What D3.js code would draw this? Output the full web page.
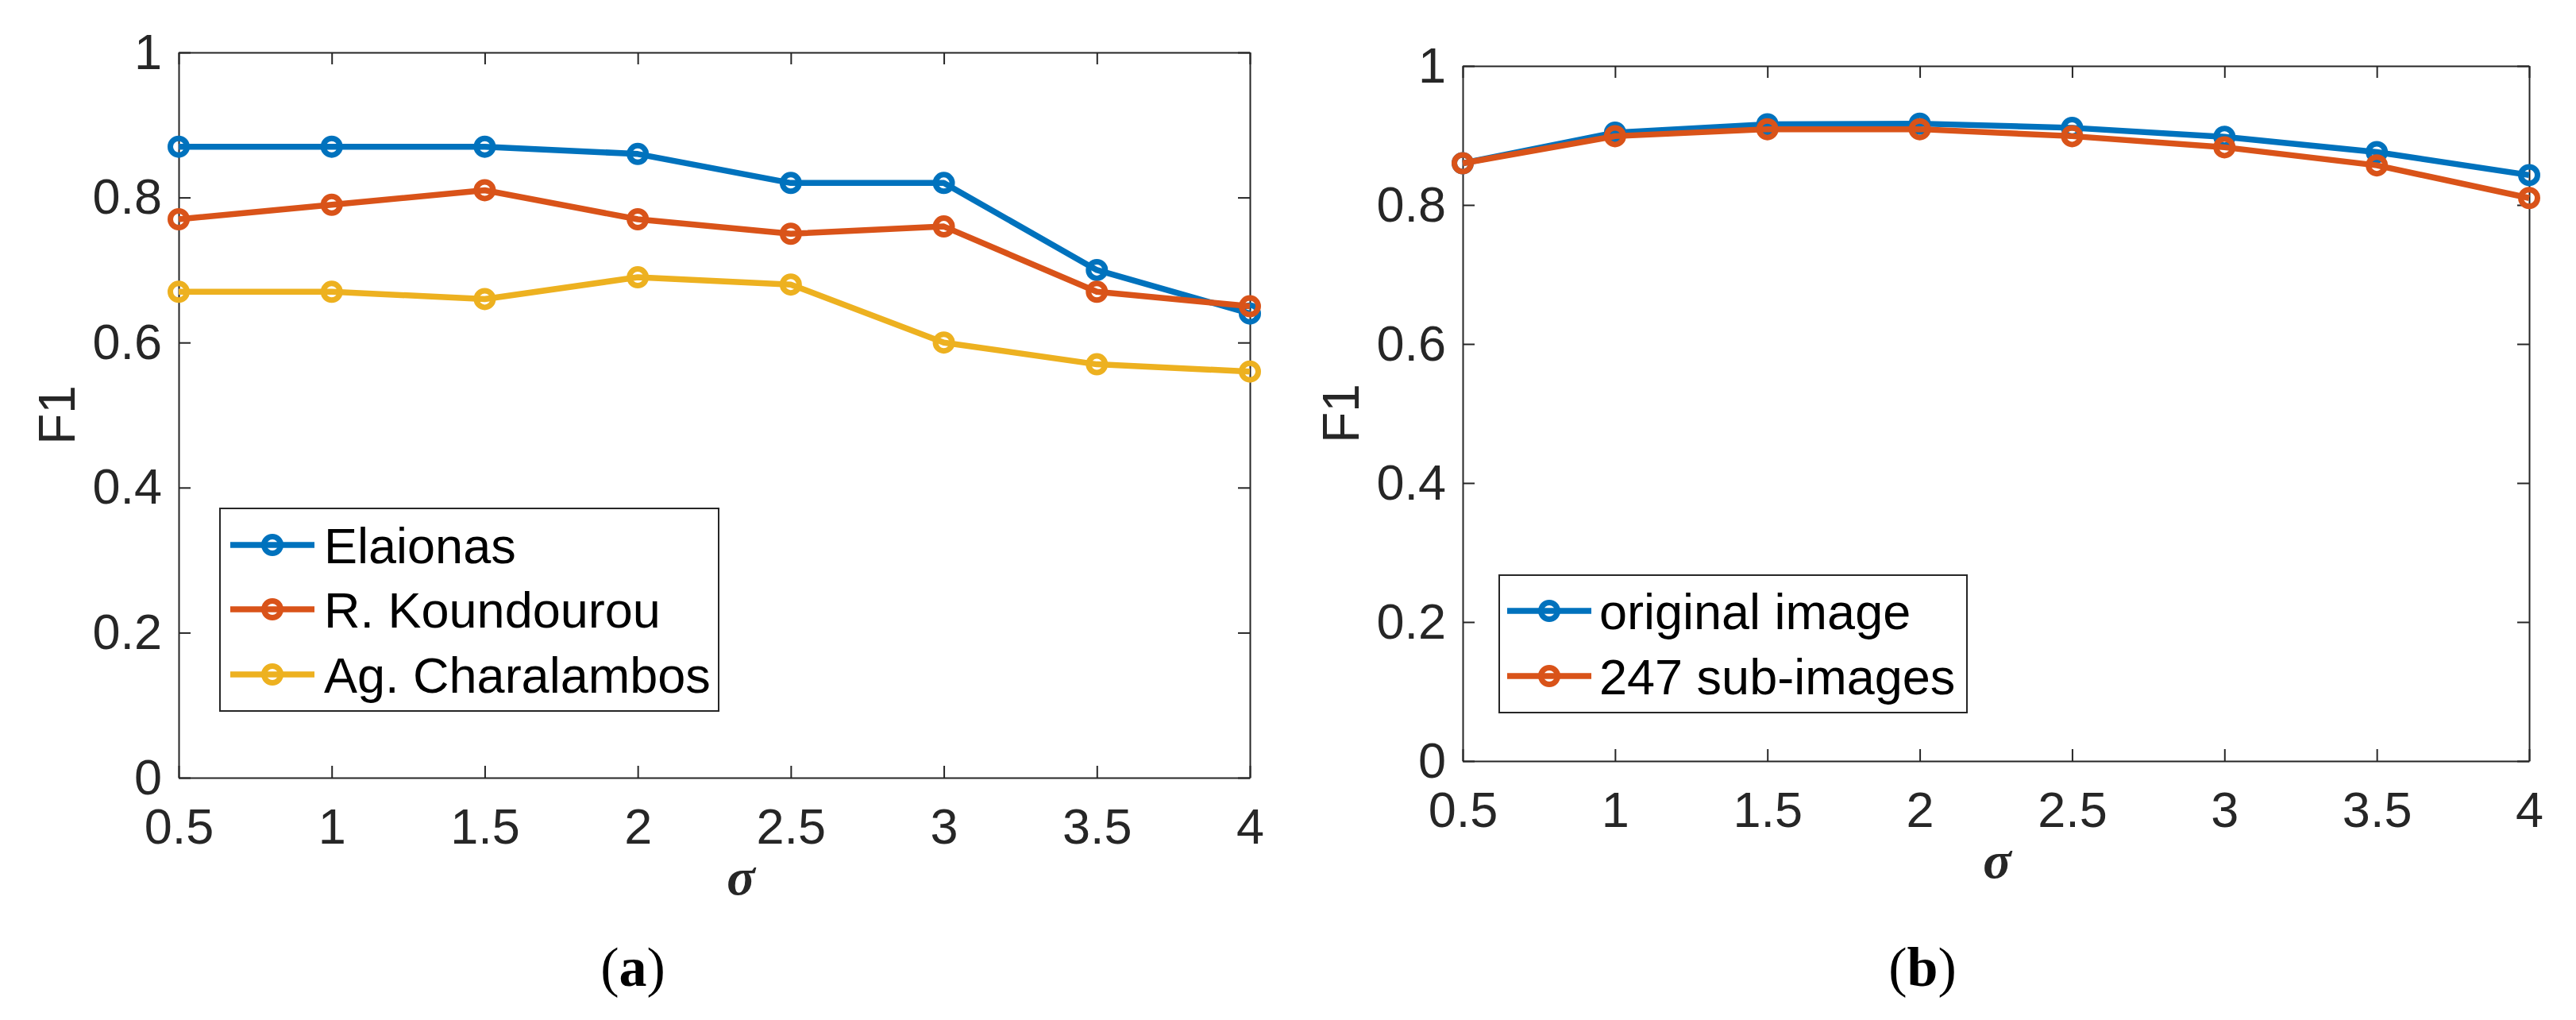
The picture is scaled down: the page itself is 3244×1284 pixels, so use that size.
<!DOCTYPE html>
<meta charset="utf-8">
<style>
  body { margin: 0; background: #fff; }
  svg { display: block; }
  .tick text { font-family: "Liberation Sans", Arial, sans-serif; }
</style>

<!-- Load d3.js -->
<script src="https://d3js.org/d3.v7.min.js"></script>

<div id="figure"></div>

<script>

// ---- data ----
var sigma = [0.5, 1, 1.5, 2, 2.5, 3, 3.5, 4];
var yTicks = [0, 0.2, 0.4, 0.6, 0.8, 1];
var yTickLabels = ["0", "0.2", "0.4", "0.6", "0.8", "1"];
var xTickLabels = ["0.5", "1", "1.5", "2", "2.5", "3", "3.5", "4"];

// panel (a)
var elaionas    = [0.87, 0.87, 0.87, 0.86, 0.82, 0.82, 0.70, 0.64];
var koundourou  = [0.77, 0.79, 0.81, 0.77, 0.75, 0.76, 0.67, 0.65];
var charalambos = [0.67, 0.67, 0.66, 0.69, 0.68, 0.60, 0.57, 0.56];
var namesA = ["Elaionas", "R. Koundourou", "Ag. Charalambos"];

// panel (b)
var originalImage = [0.86, 0.904, 0.916, 0.917, 0.911, 0.898, 0.876, 0.843];
var subImages     = [0.86, 0.899, 0.909, 0.909, 0.899, 0.883, 0.857, 0.810];
var namesB = ["original image", "247 sub-images"];

// matlab default line colours
var colors = ["#0072BD", "#D95319", "#EDB120"];

var W = 3244, H = 1284;
var axisColor = "#262626";
var fontSans = '"Liberation Sans", Arial, Helvetica, sans-serif';
var fontSerif = '"Liberation Serif", "Times New Roman", serif';

var svg = d3.select("#figure")
  .append("svg")
    .attr("width", W)
    .attr("height", H);

svg.append("rect").attr("width", W).attr("height", H).attr("fill", "#fff");

// draws one subplot
function drawPanel(p) {

  var x = d3.scaleLinear().domain([0.5, 4]).range([p.left, p.right]);
  var y = d3.scaleLinear().domain([0, 1]).range([p.bottom, p.top]);

  var g = svg.append("g");

  // white plot area
  g.append("rect")
    .attr("x", p.left).attr("y", p.top)
    .attr("width", p.right - p.left).attr("height", p.bottom - p.top)
    .attr("fill", "#fff");

  // axes: ticks point inwards, box on all four sides
  var bottom = g.append("g")
    .attr("transform", "translate(0," + p.bottom + ")")
    .call(d3.axisBottom(x).tickValues(sigma)
      .tickFormat(function(d, i) { return xTickLabels[i]; })
      .tickSizeInner(-15).tickSizeOuter(0).tickPadding(38));
  var top = g.append("g")
    .attr("transform", "translate(0," + p.top + ")")
    .call(d3.axisTop(x).tickValues(sigma).tickFormat("")
      .tickSizeInner(-15).tickSizeOuter(0));
  var left = g.append("g")
    .attr("transform", "translate(" + p.left + ",0)")
    .call(d3.axisLeft(y).tickValues(yTicks)
      .tickFormat(function(d, i) { return yTickLabels[i]; })
      .tickSizeInner(-15).tickSizeOuter(0).tickPadding(21));
  var right = g.append("g")
    .attr("transform", "translate(" + p.right + ",0)")
    .call(d3.axisRight(y).tickValues(yTicks).tickFormat("")
      .tickSizeInner(-15).tickSizeOuter(0));

  [bottom, top, left, right].forEach(function(a) {
    a.select(".domain").attr("stroke", axisColor).attr("stroke-width", 2);
    a.selectAll(".tick line").attr("stroke", axisColor).attr("stroke-width", 2);
    a.selectAll(".tick text")
      .attr("fill", axisColor)
      .style("font-size", "63px");
  });

  // axis titles
  g.append("text")
    .attr("transform", "translate(" + (p.left - 131) + "," + ((p.top + p.bottom) / 2) + ") rotate(-90)")
    .attr("text-anchor", "middle")
    .style("font-family", fontSans)
    .style("font-size", "64px")
    .attr("fill", axisColor)
    .text("F1");

  g.append("text")
    .attr("x", p.sigmaX)
    .attr("y", p.bottom + 147)
    .attr("text-anchor", "middle")
    .style("font-family", fontSerif)
    .style("font-size", "66px")
    .style("font-weight", "bold")
    .style("font-style", "italic")
    .attr("fill", axisColor)
    .text("σ");

  // series: line then markers, in order
  var line = d3.line()
    .x(function(d, i) { return x(sigma[i]); })
    .y(function(d) { return y(d); });

  p.series.forEach(function(vals, k) {
    g.append("path")
      .datum(vals)
      .attr("d", line)
      .attr("fill", "none")
      .attr("stroke", colors[k])
      .attr("stroke-width", 7.5)
      .attr("stroke-linejoin", "round");
    g.selectAll(".m" + k)
      .data(vals)
      .enter()
      .append("circle")
        .attr("class", "m" + k)
        .attr("cx", function(d, i) { return x(sigma[i]); })
        .attr("cy", function(d) { return y(d); })
        .attr("r", 10.5)
        .attr("fill", "none")
        .attr("stroke", colors[k])
        .attr("stroke-width", 7);
  });

  // legend
  var lg = g.append("g");
  lg.append("rect")
    .attr("x", p.leg.x0).attr("y", p.leg.y0)
    .attr("width", p.leg.x1 - p.leg.x0).attr("height", p.leg.y1 - p.leg.y0)
    .attr("fill", "#fff")
    .attr("stroke", axisColor)
    .attr("stroke-width", 2);

  p.names.forEach(function(name, k) {
    var ry = p.leg.rows[k];
    lg.append("line")
      .attr("x1", p.leg.lineX0).attr("x2", p.leg.lineX0 + 106)
      .attr("y1", ry).attr("y2", ry)
      .attr("stroke", colors[k])
      .attr("stroke-width", 7.5);
    lg.append("circle")
      .attr("cx", p.leg.lineX0 + 53).attr("cy", ry)
      .attr("r", 10.5)
      .attr("fill", "none")
      .attr("stroke", colors[k])
      .attr("stroke-width", 7);
    lg.append("text")
      .attr("x", p.leg.textX)
      .attr("y", ry)
      .attr("dy", "0.37em")
      .style("font-family", fontSans)
      .style("font-size", "63px")
      .attr("fill", "#000")
      .text(name);
  });

  // sub-caption (a) / (b)
  var cap = svg.append("text")
    .attr("x", p.capX)
    .attr("y", 1241)
    .attr("text-anchor", "middle")
    .style("font-family", fontSerif)
    .style("font-size", "70px")
    .attr("fill", "#000");
  cap.append("tspan").text("(");
  cap.append("tspan").style("font-weight", "bold").text(p.cap);
  cap.append("tspan").text(")");
}

drawPanel({
  left: 225, right: 1574, top: 66, bottom: 979,
  sigmaX: 933, capX: 797, cap: "a",
  series: [elaionas, koundourou, charalambos],
  names: namesA,
  leg: { x0: 277, x1: 905, y0: 640, y1: 895, lineX0: 290, textX: 408, rows: [686, 767, 849] }
});

drawPanel({
  left: 1842, right: 3185, top: 83, bottom: 958,
  sigmaX: 2515, capX: 2421, cap: "b",
  series: [originalImage, subImages],
  names: namesB,
  leg: { x0: 1888, x1: 2477, y0: 724, y1: 897, lineX0: 1898, textX: 2014, rows: [769, 851] }
});

</script>
